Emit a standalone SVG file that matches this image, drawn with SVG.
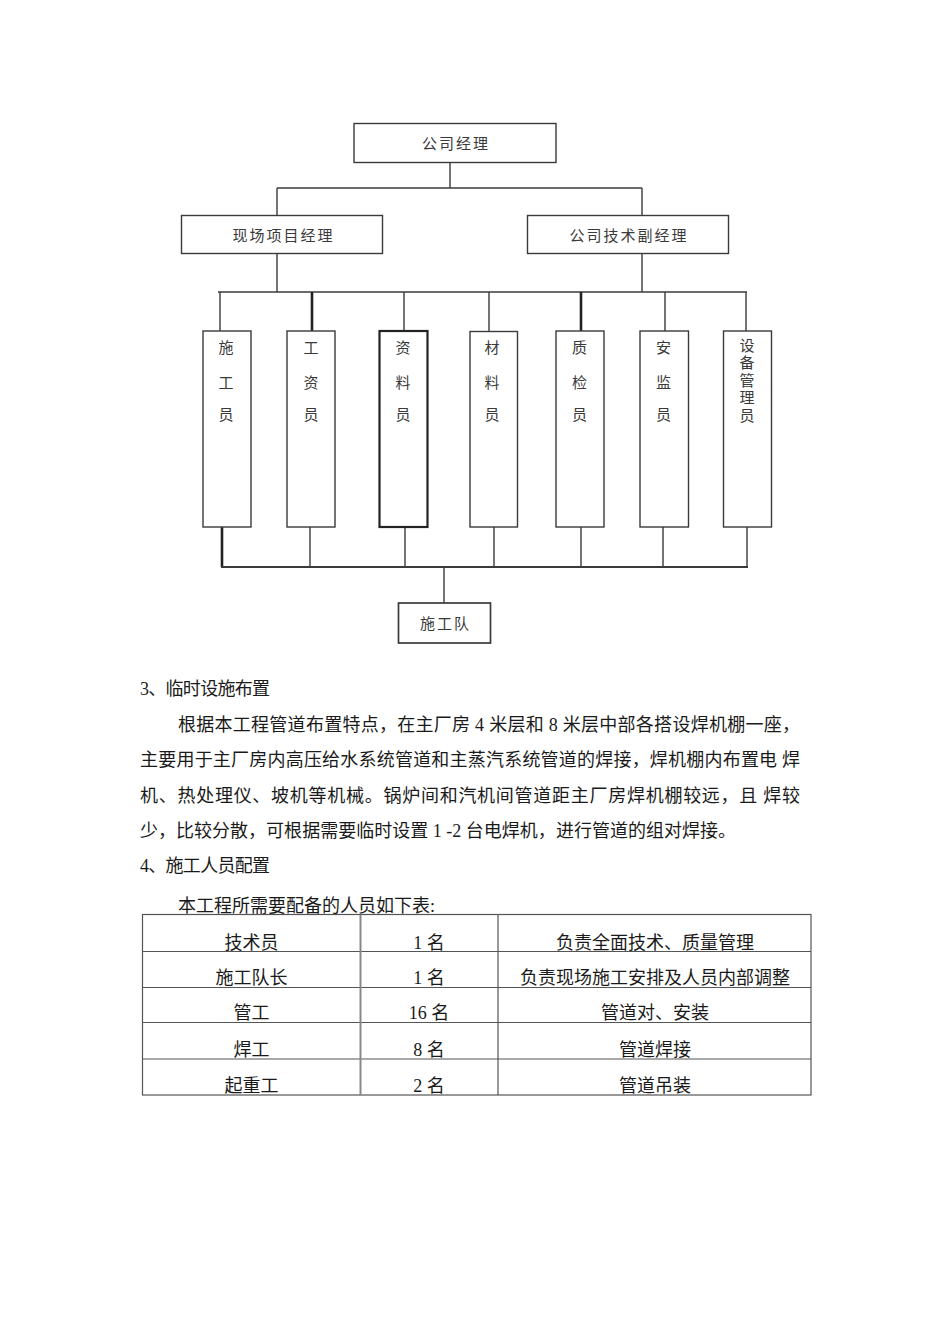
<svg xmlns="http://www.w3.org/2000/svg" width="950" height="1344" viewBox="0 0 950 1344">
<style>
.bx{fill:#fff;stroke:#3a3a3a;stroke-width:1.4}
.bxt{fill:#fff;stroke:#222;stroke-width:2.2}
.ln{stroke:#3a3a3a;stroke-width:1.4;fill:none}
.lt{stroke:#222;stroke-width:2.6;fill:none}
.ct{font-family:"Noto Sans CJK SC","Noto Sans",sans-serif;font-size:15px;fill:#3a3a3a;text-anchor:middle}
.bt{font-family:"Liberation Serif","Noto Sans CJK SC",serif;font-size:18px;fill:#1a1a1a}
.tc{font-family:"Liberation Serif","Noto Sans CJK SC",serif;font-size:18px;fill:#1a1a1a;text-anchor:middle}
.tb{stroke:#555;stroke-width:1.2;fill:none}
</style>
<rect width="950" height="1344" fill="#fff"/>
<g id="connectors">
<line class="ln" x1="450" y1="163" x2="450" y2="188"/>
<line class="ln" x1="277" y1="188" x2="642" y2="188"/>
<line class="ln" x1="277" y1="188" x2="277" y2="215"/>
<line class="ln" x1="642" y1="188" x2="642" y2="215"/>
<line class="ln" x1="277" y1="253" x2="277" y2="292"/>
<line class="ln" x1="642" y1="253" x2="642" y2="292"/>
<line class="ln" x1="218" y1="292" x2="747" y2="292"/>
<line class="ln" x1="220" y1="292" x2="220" y2="331"/>
<line class="lt" x1="312" y1="292" x2="312" y2="331"/>
<line class="ln" x1="404" y1="292" x2="404" y2="331"/>
<line class="ln" x1="489" y1="292" x2="489" y2="331"/>
<line class="lt" x1="581" y1="292" x2="581" y2="331"/>
<line class="ln" x1="665" y1="292" x2="665" y2="331"/>
<line class="ln" x1="746" y1="292" x2="746" y2="331"/>
<line class="lt" x1="222" y1="527" x2="222" y2="567"/>
<line class="ln" x1="310" y1="527" x2="310" y2="567"/>
<line class="ln" x1="405" y1="527" x2="405" y2="567"/>
<line class="ln" x1="494" y1="527" x2="494" y2="567"/>
<line class="ln" x1="581" y1="527" x2="581" y2="567"/>
<line class="ln" x1="663" y1="527" x2="663" y2="567"/>
<line class="ln" x1="747" y1="527" x2="747" y2="567"/>
<line class="ln" x1="221" y1="567" x2="748" y2="567" style="stroke-width:1.8"/>
<line class="ln" x1="444" y1="567" x2="444" y2="603"/>
</g>
<g id="n-gsjl"><rect class="bx" x="354" y="123.5" width="202" height="39"/><text class="ct" x="456" y="148.5" letter-spacing="2">公司经理</text></g>
<g id="n-xmjl"><rect class="bx" x="181.5" y="215.5" width="201" height="38"/><text class="ct" x="283.5" y="240.5" letter-spacing="2">现场项目经理</text></g>
<g id="n-jsfjl"><rect class="bx" x="527.5" y="215.5" width="201" height="38"/><text class="ct" x="629" y="240.5" letter-spacing="2">公司技术副经理</text></g>
<g id="n-sgy"><rect class="bx" x="203" y="331" width="48" height="196"/><text class="ct" x="226" y="353">施</text><text class="ct" x="226" y="388">工</text><text class="ct" x="226" y="420">员</text></g>
<g id="n-gzy"><rect class="bx" x="287" y="331" width="48" height="196"/><text class="ct" x="311" y="353">工</text><text class="ct" x="311" y="388">资</text><text class="ct" x="311" y="420">员</text></g>
<g id="n-zly"><rect class="bxt" x="379.5" y="331" width="48" height="196"/><text class="ct" x="403" y="353">资</text><text class="ct" x="403" y="388">料</text><text class="ct" x="403" y="420">员</text></g>
<g id="n-cly"><rect class="bx" x="470" y="331.5" width="47.5" height="195.5"/><text class="ct" x="492" y="353">材</text><text class="ct" x="492" y="388">料</text><text class="ct" x="492" y="420">员</text></g>
<g id="n-zjy"><rect class="bx" x="556" y="331" width="48" height="196"/><text class="ct" x="579.5" y="353">质</text><text class="ct" x="579.5" y="388">检</text><text class="ct" x="579.5" y="420">员</text></g>
<g id="n-ajy"><rect class="bx" x="640" y="331" width="48.5" height="196"/><text class="ct" x="663.5" y="353">安</text><text class="ct" x="663.5" y="388">监</text><text class="ct" x="663.5" y="420">员</text></g>
<g id="n-sbgly"><rect class="bx" x="723.5" y="331" width="48" height="196"/><text class="ct" x="747" y="337.5" writing-mode="vertical-rl" style="text-anchor:start" letter-spacing="2.5">设备管理员</text></g>
<g id="n-sgd"><rect class="bx" x="398.5" y="603" width="92" height="40" style="stroke-width:1.7"/><text class="ct" x="445.5" y="629" letter-spacing="2">施工队</text></g>
<g id="text">
<text class="bt" x="140" y="695" textLength="130" lengthAdjust="spacing">3、临时设施布置</text>
<text class="bt" x="178" y="731" textLength="622" lengthAdjust="spacing">根据本工程管道布置特点，在主厂房 4 米层和 8 米层中部各搭设焊机棚一座，</text>
<text class="bt" x="140" y="766" textLength="660" lengthAdjust="spacing">主要用于主厂房内高压给水系统管道和主蒸汽系统管道的焊接，焊机棚内布置电 焊</text>
<text class="bt" x="140" y="802" textLength="660" lengthAdjust="spacing">机、热处理仪、坡机等机械。锅炉间和汽机间管道距主厂房焊机棚较远，且 焊较</text>
<text class="bt" x="140" y="837" textLength="596" lengthAdjust="spacing">少，比较分散，可根据需要临时设置 1 -2 台电焊机，进行管道的组对焊接。</text>
<text class="bt" x="140" y="872" textLength="130" lengthAdjust="spacing">4、施工人员配置</text>
<text class="bt" x="178" y="912">本工程所需要配备的人员如下表:</text>
</g>
<g id="table">
<rect class="tb" x="142.5" y="914.5" width="668.5" height="180.5"/>
<line class="tb" x1="142.5" y1="951.5" x2="811" y2="951.5"/>
<line class="tb" x1="142.5" y1="987.5" x2="811" y2="987.5"/>
<line class="tb" x1="142.5" y1="1022.5" x2="811" y2="1022.5"/>
<line class="tb" x1="142.5" y1="1059" x2="811" y2="1059"/>
<line class="tb" x1="360.5" y1="914.5" x2="360.5" y2="1095" style="stroke:#888;stroke-width:2"/>
<line class="tb" x1="498" y1="914.5" x2="498" y2="1095"/>
<text class="tc" x="251.5" y="949">技术员</text><text class="tc" x="429" y="949">1 名</text><text class="tc" x="655" y="949">负责全面技术、质量管理</text>
<text class="tc" x="251.5" y="984">施工队长</text><text class="tc" x="429" y="984">1 名</text><text class="tc" x="655" y="984">负责现场施工安排及人员内部调整</text>
<text class="tc" x="251.5" y="1019">管工</text><text class="tc" x="429" y="1019">16 名</text><text class="tc" x="655" y="1019">管道对、安装</text>
<text class="tc" x="251.5" y="1056">焊工</text><text class="tc" x="429" y="1056">8 名</text><text class="tc" x="655" y="1056">管道焊接</text>
<text class="tc" x="251.5" y="1092">起重工</text><text class="tc" x="429" y="1092">2 名</text><text class="tc" x="655" y="1092">管道吊装</text>
</g>
</svg>
